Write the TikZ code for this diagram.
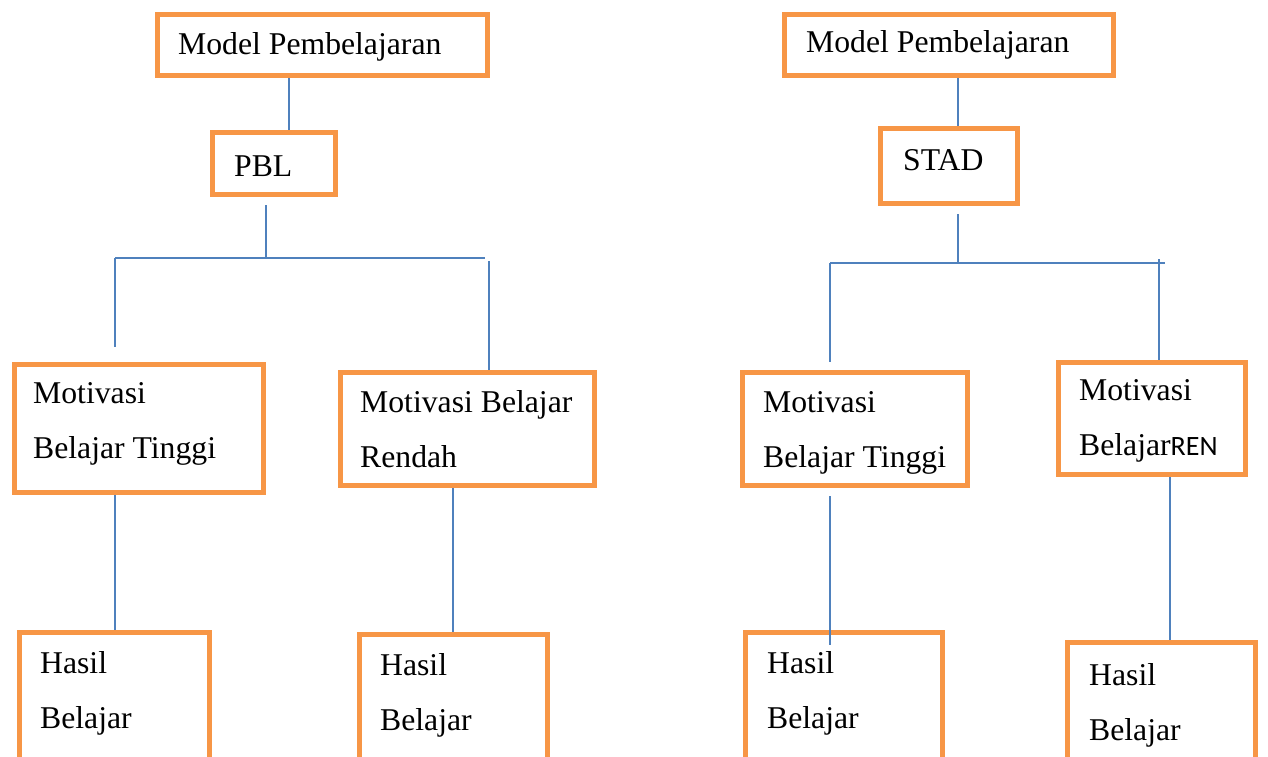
\documentclass[tikz,border=0pt]{standalone}
\usepackage{fontspec}
\setmainfont{Liberation Serif}
\newfontfamily\calfont{Carlito}
\definecolor{boxorange}{HTML}{F79646}
\definecolor{lineblue}{HTML}{4F81BD}
\tikzset{
  box/.style={draw=boxorange, line width=5pt, rectangle, inner sep=0pt},
  txt/.style={anchor=base west, inner sep=0pt, font=\fontsize{31.7}{38}\selectfont},
  conn/.style={draw=lineblue, line width=1.6pt}
}
\begin{document}
\begin{tikzpicture}[x=1pt,y=-1pt]
\useasboundingbox (0,0) rectangle (1268,757);
\clip (0,0) rectangle (1268,757);
\fill[white] (0,0) rectangle (1268,757);
% ---------- left tree boxes ----------
\node[box, minimum width=330pt, minimum height=61pt] (m1) at (322.5,45) {};
\node[box, minimum width=123pt, minimum height=62pt] (pbl) at (274,163.5) {};
\node[box, minimum width=249pt, minimum height=128pt] (lt) at (139,428.5) {};
\node[box, minimum width=254pt, minimum height=113pt] (lr) at (467.5,429) {};
\node[box, minimum width=190pt, minimum height=140pt] (lh1) at (114.5,702.5) {};
\node[box, minimum width=188pt, minimum height=140pt] (lh2) at (453.5,704.5) {};
% ---------- right tree boxes ----------
\node[box, minimum width=329pt, minimum height=61pt] (m2) at (949,45) {};
\node[box, minimum width=137pt, minimum height=75pt] (stad) at (949,166) {};
\node[box, minimum width=225pt, minimum height=113pt] (rt) at (855,429) {};
\node[box, minimum width=187pt, minimum height=112pt] (rr) at (1152,418.5) {};
\node[box, minimum width=197pt, minimum height=140pt] (rh1) at (844,702.5) {};
\node[box, minimum width=188pt, minimum height=140pt] (rh2) at (1161.5,712.5) {};
% ---------- texts ----------
\node[txt] (tm1) at (178,55) {Model Pembelajaran};
\node[txt] (tpbl) at (234,176) {PBL};
\node[txt] (tlt1) at (33,403) {Motivasi};
\node[txt] (tlt2) at (33,458) {Belajar Tinggi};
\node[txt] (tlr1) at (360,412) {Motivasi Belajar};
\node[txt] (tlr2) at (360,467) {Rendah};
\node[txt] (tlh1a) at (40,673) {Hasil};
\node[txt] (tlh1b) at (40,728) {Belajar};
\node[txt] (tlh2a) at (380,675) {Hasil};
\node[txt] (tlh2b) at (380,730) {Belajar};
\node[txt] (tm2) at (806,53) {Model Pembelajaran};
\node[txt] (tstad) at (903,170) {STAD};
\node[txt] (trt1) at (763,412) {Motivasi};
\node[txt] (trt2) at (763,467) {Belajar Tinggi};
\node[txt] (trr1) at (1079,400) {Motivasi};
\node[txt] (trr2) at (1079,455) {Belajar{\calfont\fontsize{28}{34}\selectfont REN}};
\node[txt] (trh1a) at (767,673) {Hasil};
\node[txt] (trh1b) at (767,728) {Belajar};
\node[txt] (trh2a) at (1089,685) {Hasil};
\node[txt] (trh2b) at (1089,740) {Belajar};
% ---------- junction coordinates ----------
\coordinate (jl) at (266,258);
\coordinate (jlL) at (115,258);
\coordinate (jlR) at (485,258);
\coordinate (jlLd) at (115,347);
\coordinate (jr) at (958,263);
\coordinate (jrL) at (830,263);
\coordinate (jrR) at (1165,263);
\coordinate (jrLd) at (830,362);
% ---------- left connectors ----------
\draw[conn] (289,0 |- m1.south) -- (289,0 |- pbl.north);
\draw[conn] (266,205) -- (jl);
\draw[conn] (jlL) -- (jlR);
\draw[conn] (jlL) -- (jlLd);
\draw[conn] (489,261) -- (489,0 |- lr.north);
\draw[conn] (115,0 |- lt.south) -- (115,0 |- lh1.north);
\draw[conn] (453,0 |- lr.south) -- (453,0 |- lh2.north);
% ---------- right connectors ----------
\draw[conn] (958,0 |- m2.south) -- (958,0 |- stad.north);
\draw[conn] (958,214) -- (jr);
\draw[conn] (jrL) -- (jrR);
\draw[conn] (jrL) -- (jrLd);
\draw[conn] (1159,259) -- (1159,0 |- rr.north);
\draw[conn] (830,496) -- (830,645);
\draw[conn] (1170,0 |- rr.south) -- (1170,0 |- rh2.north);
\end{tikzpicture}
\end{document}
